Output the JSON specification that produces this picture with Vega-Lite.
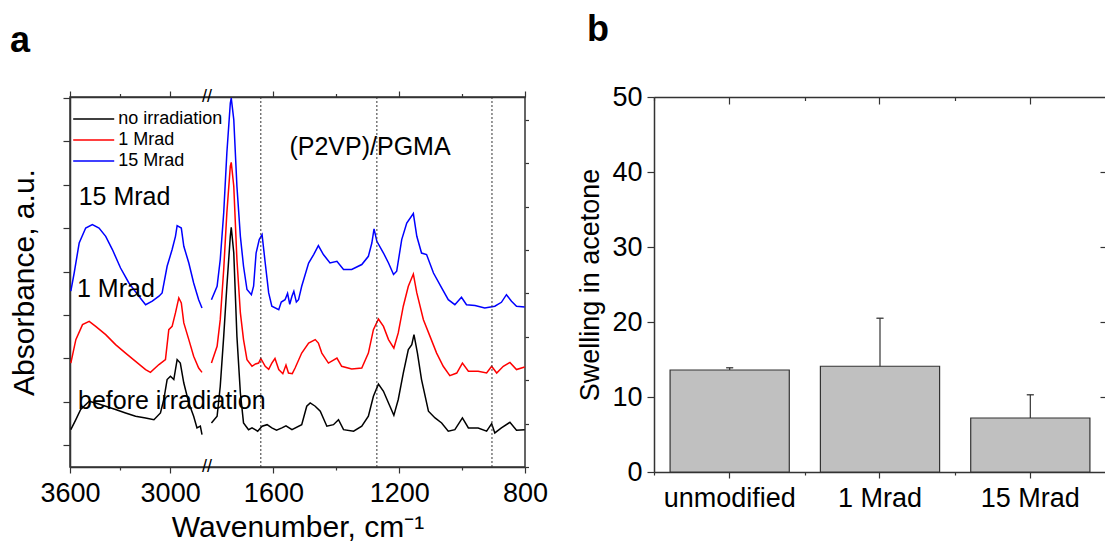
{
  "$schema": "https://vega.github.io/schema/vega-lite/v6.json",
  "background": "white",
  "padding": {"left": 8, "top": 12, "right": 0, "bottom": 0},
  "spacing": 129,
  "bounds": "flush",
  "config": {
    "font": "Liberation Sans",
    "view": {"stroke": null},
    "axis": {"grid": false, "domainColor": "#333", "tickColor": "#333", "labelColor": "#000", "titleColor": "#000", "titleFontWeight": "normal", "labelFont": "Liberation Sans", "titleFont": "Liberation Sans", "domainWidth": 1.5, "tickWidth": 1.2},
    "title": {"font": "Liberation Sans", "fontWeight": "bold", "fontSize": 36, "anchor": "start", "frame": "group", "color": "#000"}
  },
  "datasets": {
    "spectra": [
      {"s":"no irradiation","g":"L","x":3595,"y":0.172},{"s":"no irradiation","g":"L","x":3565,"y":0.218},{"s":"no irradiation","g":"L","x":3536,"y":0.265},{"s":"no irradiation","g":"L","x":3485,"y":0.303},{"s":"no irradiation","g":"L","x":3446,"y":0.295},{"s":"no irradiation","g":"L","x":3386,"y":0.280},{"s":"no irradiation","g":"L","x":3327,"y":0.265},{"s":"no irradiation","g":"L","x":3267,"y":0.249},{"s":"no irradiation","g":"L","x":3207,"y":0.234},{"s":"no irradiation","g":"L","x":3147,"y":0.226},{"s":"no irradiation","g":"L","x":3097,"y":0.218},{"s":"no irradiation","g":"L","x":3058,"y":0.249},{"s":"no irradiation","g":"L","x":3038,"y":0.311},{"s":"no irradiation","g":"L","x":3018,"y":0.403},{"s":"no irradiation","g":"L","x":2998,"y":0.418},{"s":"no irradiation","g":"L","x":2978,"y":0.403},{"s":"no irradiation","g":"L","x":2958,"y":0.495},{"s":"no irradiation","g":"L","x":2939,"y":0.479},{"s":"no irradiation","g":"L","x":2918,"y":0.387},{"s":"no irradiation","g":"L","x":2888,"y":0.295},{"s":"no irradiation","g":"L","x":2859,"y":0.234},{"s":"no irradiation","g":"L","x":2839,"y":0.180},{"s":"no irradiation","g":"L","x":2819,"y":0.188},{"s":"no irradiation","g":"L","x":2809,"y":0.149},
      {"s":"no irradiation","g":"R","x":1797,"y":0.203},{"s":"no irradiation","g":"R","x":1779,"y":0.234},{"s":"no irradiation","g":"R","x":1769,"y":0.372},{"s":"no irradiation","g":"R","x":1758,"y":0.602},{"s":"no irradiation","g":"R","x":1748,"y":0.833},{"s":"no irradiation","g":"R","x":1737,"y":1.063},{"s":"no irradiation","g":"R","x":1734,"y":1.105},{"s":"no irradiation","g":"R","x":1726,"y":0.986},{"s":"no irradiation","g":"R","x":1716,"y":0.602},{"s":"no irradiation","g":"R","x":1705,"y":0.341},{"s":"no irradiation","g":"R","x":1695,"y":0.203},{"s":"no irradiation","g":"R","x":1679,"y":0.172},{"s":"no irradiation","g":"R","x":1668,"y":0.180},{"s":"no irradiation","g":"R","x":1658,"y":0.172},{"s":"no irradiation","g":"R","x":1650,"y":0.165},{"s":"no irradiation","g":"R","x":1636,"y":0.188},{"s":"no irradiation","g":"R","x":1620,"y":0.195},{"s":"no irradiation","g":"R","x":1605,"y":0.180},{"s":"no irradiation","g":"R","x":1590,"y":0.170},{"s":"no irradiation","g":"R","x":1573,"y":0.180},{"s":"no irradiation","g":"R","x":1560,"y":0.190},{"s":"no irradiation","g":"R","x":1541,"y":0.172},{"s":"no irradiation","g":"R","x":1510,"y":0.195},{"s":"no irradiation","g":"R","x":1494,"y":0.280},{"s":"no irradiation","g":"R","x":1483,"y":0.295},{"s":"no irradiation","g":"R","x":1467,"y":0.280},{"s":"no irradiation","g":"R","x":1451,"y":0.257},{"s":"no irradiation","g":"R","x":1430,"y":0.188},{"s":"no irradiation","g":"R","x":1409,"y":0.195},{"s":"no irradiation","g":"R","x":1393,"y":0.218},{"s":"no irradiation","g":"R","x":1377,"y":0.172},{"s":"no irradiation","g":"R","x":1345,"y":0.165},{"s":"no irradiation","g":"R","x":1319,"y":0.188},{"s":"no irradiation","g":"R","x":1298,"y":0.234},{"s":"no irradiation","g":"R","x":1282,"y":0.326},{"s":"no irradiation","g":"R","x":1266,"y":0.382},{"s":"no irradiation","g":"R","x":1250,"y":0.349},{"s":"no irradiation","g":"R","x":1234,"y":0.295},{"s":"no irradiation","g":"R","x":1217,"y":0.238},{"s":"no irradiation","g":"R","x":1203,"y":0.311},{"s":"no irradiation","g":"R","x":1187,"y":0.433},{"s":"no irradiation","g":"R","x":1171,"y":0.541},{"s":"no irradiation","g":"R","x":1160,"y":0.564},{"s":"no irradiation","g":"R","x":1153,"y":0.610},{"s":"no irradiation","g":"R","x":1142,"y":0.525},{"s":"no irradiation","g":"R","x":1129,"y":0.403},{"s":"no irradiation","g":"R","x":1107,"y":0.257},{"s":"no irradiation","g":"R","x":1086,"y":0.226},{"s":"no irradiation","g":"R","x":1065,"y":0.203},{"s":"no irradiation","g":"R","x":1044,"y":0.165},{"s":"no irradiation","g":"R","x":1023,"y":0.172},{"s":"no irradiation","g":"R","x":999,"y":0.226},{"s":"no irradiation","g":"R","x":980,"y":0.180},{"s":"no irradiation","g":"R","x":949,"y":0.180},{"s":"no irradiation","g":"R","x":922,"y":0.165},{"s":"no irradiation","g":"R","x":906,"y":0.200},{"s":"no irradiation","g":"R","x":896,"y":0.157},{"s":"no irradiation","g":"R","x":875,"y":0.180},{"s":"no irradiation","g":"R","x":848,"y":0.206},{"s":"no irradiation","g":"R","x":827,"y":0.169},{"s":"no irradiation","g":"R","x":801,"y":0.172},
      {"s":"1 Mrad","g":"L","x":3595,"y":0.479},{"s":"1 Mrad","g":"L","x":3565,"y":0.587},{"s":"1 Mrad","g":"L","x":3525,"y":0.656},{"s":"1 Mrad","g":"L","x":3485,"y":0.671},{"s":"1 Mrad","g":"L","x":3446,"y":0.648},{"s":"1 Mrad","g":"L","x":3386,"y":0.610},{"s":"1 Mrad","g":"L","x":3327,"y":0.564},{"s":"1 Mrad","g":"L","x":3267,"y":0.525},{"s":"1 Mrad","g":"L","x":3207,"y":0.487},{"s":"1 Mrad","g":"L","x":3147,"y":0.449},{"s":"1 Mrad","g":"L","x":3118,"y":0.436},{"s":"1 Mrad","g":"L","x":3067,"y":0.472},{"s":"1 Mrad","g":"L","x":3028,"y":0.495},{"s":"1 Mrad","g":"L","x":3008,"y":0.633},{"s":"1 Mrad","g":"L","x":2988,"y":0.648},{"s":"1 Mrad","g":"L","x":2968,"y":0.710},{"s":"1 Mrad","g":"L","x":2948,"y":0.779},{"s":"1 Mrad","g":"L","x":2933,"y":0.756},{"s":"1 Mrad","g":"L","x":2918,"y":0.664},{"s":"1 Mrad","g":"L","x":2888,"y":0.587},{"s":"1 Mrad","g":"L","x":2859,"y":0.510},{"s":"1 Mrad","g":"L","x":2829,"y":0.456},{"s":"1 Mrad","g":"L","x":2809,"y":0.436},
      {"s":"1 Mrad","g":"R","x":1797,"y":0.479},{"s":"1 Mrad","g":"R","x":1779,"y":0.556},{"s":"1 Mrad","g":"R","x":1769,"y":0.679},{"s":"1 Mrad","g":"R","x":1758,"y":0.910},{"s":"1 Mrad","g":"R","x":1748,"y":1.171},{"s":"1 Mrad","g":"R","x":1737,"y":1.386},{"s":"1 Mrad","g":"R","x":1734,"y":1.404},{"s":"1 Mrad","g":"R","x":1726,"y":1.294},{"s":"1 Mrad","g":"R","x":1716,"y":0.956},{"s":"1 Mrad","g":"R","x":1705,"y":0.710},{"s":"1 Mrad","g":"R","x":1695,"y":0.587},{"s":"1 Mrad","g":"R","x":1684,"y":0.495},{"s":"1 Mrad","g":"R","x":1668,"y":0.464},{"s":"1 Mrad","g":"R","x":1657,"y":0.475},{"s":"1 Mrad","g":"R","x":1647,"y":0.479},{"s":"1 Mrad","g":"R","x":1640,"y":0.500},{"s":"1 Mrad","g":"R","x":1626,"y":0.464},{"s":"1 Mrad","g":"R","x":1615,"y":0.450},{"s":"1 Mrad","g":"R","x":1605,"y":0.479},{"s":"1 Mrad","g":"R","x":1595,"y":0.500},{"s":"1 Mrad","g":"R","x":1583,"y":0.449},{"s":"1 Mrad","g":"R","x":1570,"y":0.430},{"s":"1 Mrad","g":"R","x":1560,"y":0.470},{"s":"1 Mrad","g":"R","x":1552,"y":0.433},{"s":"1 Mrad","g":"R","x":1540,"y":0.430},{"s":"1 Mrad","g":"R","x":1531,"y":0.456},{"s":"1 Mrad","g":"R","x":1510,"y":0.525},{"s":"1 Mrad","g":"R","x":1488,"y":0.571},{"s":"1 Mrad","g":"R","x":1467,"y":0.587},{"s":"1 Mrad","g":"R","x":1457,"y":0.571},{"s":"1 Mrad","g":"R","x":1446,"y":0.525},{"s":"1 Mrad","g":"R","x":1425,"y":0.479},{"s":"1 Mrad","g":"R","x":1398,"y":0.502},{"s":"1 Mrad","g":"R","x":1383,"y":0.464},{"s":"1 Mrad","g":"R","x":1351,"y":0.452},{"s":"1 Mrad","g":"R","x":1319,"y":0.456},{"s":"1 Mrad","g":"R","x":1298,"y":0.525},{"s":"1 Mrad","g":"R","x":1282,"y":0.633},{"s":"1 Mrad","g":"R","x":1266,"y":0.682},{"s":"1 Mrad","g":"R","x":1250,"y":0.648},{"s":"1 Mrad","g":"R","x":1234,"y":0.587},{"s":"1 Mrad","g":"R","x":1217,"y":0.548},{"s":"1 Mrad","g":"R","x":1203,"y":0.618},{"s":"1 Mrad","g":"R","x":1187,"y":0.741},{"s":"1 Mrad","g":"R","x":1171,"y":0.833},{"s":"1 Mrad","g":"R","x":1155,"y":0.889},{"s":"1 Mrad","g":"R","x":1144,"y":0.802},{"s":"1 Mrad","g":"R","x":1123,"y":0.679},{"s":"1 Mrad","g":"R","x":1102,"y":0.602},{"s":"1 Mrad","g":"R","x":1081,"y":0.525},{"s":"1 Mrad","g":"R","x":1060,"y":0.464},{"s":"1 Mrad","g":"R","x":1039,"y":0.421},{"s":"1 Mrad","g":"R","x":1017,"y":0.433},{"s":"1 Mrad","g":"R","x":999,"y":0.479},{"s":"1 Mrad","g":"R","x":980,"y":0.441},{"s":"1 Mrad","g":"R","x":949,"y":0.441},{"s":"1 Mrad","g":"R","x":922,"y":0.433},{"s":"1 Mrad","g":"R","x":906,"y":0.464},{"s":"1 Mrad","g":"R","x":890,"y":0.433},{"s":"1 Mrad","g":"R","x":869,"y":0.464},{"s":"1 Mrad","g":"R","x":848,"y":0.482},{"s":"1 Mrad","g":"R","x":827,"y":0.449},{"s":"1 Mrad","g":"R","x":801,"y":0.461},
      {"s":"15 Mrad","g":"L","x":3595,"y":0.810},{"s":"15 Mrad","g":"L","x":3575,"y":0.894},{"s":"15 Mrad","g":"L","x":3545,"y":1.032},{"s":"15 Mrad","g":"L","x":3506,"y":1.101},{"s":"15 Mrad","g":"L","x":3466,"y":1.117},{"s":"15 Mrad","g":"L","x":3426,"y":1.101},{"s":"15 Mrad","g":"L","x":3386,"y":1.063},{"s":"15 Mrad","g":"L","x":3346,"y":1.002},{"s":"15 Mrad","g":"L","x":3297,"y":0.917},{"s":"15 Mrad","g":"L","x":3247,"y":0.848},{"s":"15 Mrad","g":"L","x":3187,"y":0.787},{"s":"15 Mrad","g":"L","x":3147,"y":0.748},{"s":"15 Mrad","g":"L","x":3107,"y":0.764},{"s":"15 Mrad","g":"L","x":3067,"y":0.787},{"s":"15 Mrad","g":"L","x":3048,"y":0.802},{"s":"15 Mrad","g":"L","x":3018,"y":0.925},{"s":"15 Mrad","g":"L","x":2988,"y":1.002},{"s":"15 Mrad","g":"L","x":2968,"y":1.063},{"s":"15 Mrad","g":"L","x":2958,"y":1.112},{"s":"15 Mrad","g":"L","x":2933,"y":1.101},{"s":"15 Mrad","g":"L","x":2918,"y":1.017},{"s":"15 Mrad","g":"L","x":2888,"y":0.940},{"s":"15 Mrad","g":"L","x":2859,"y":0.848},{"s":"15 Mrad","g":"L","x":2829,"y":0.771},{"s":"15 Mrad","g":"L","x":2809,"y":0.733},
      {"s":"15 Mrad","g":"R","x":1797,"y":0.771},{"s":"15 Mrad","g":"R","x":1779,"y":0.833},{"s":"15 Mrad","g":"R","x":1769,"y":0.956},{"s":"15 Mrad","g":"R","x":1758,"y":1.171},{"s":"15 Mrad","g":"R","x":1748,"y":1.447},{"s":"15 Mrad","g":"R","x":1737,"y":1.677},{"s":"15 Mrad","g":"R","x":1734,"y":1.700},{"s":"15 Mrad","g":"R","x":1726,"y":1.601},{"s":"15 Mrad","g":"R","x":1716,"y":1.294},{"s":"15 Mrad","g":"R","x":1705,"y":1.063},{"s":"15 Mrad","g":"R","x":1695,"y":0.925},{"s":"15 Mrad","g":"R","x":1684,"y":0.818},{"s":"15 Mrad","g":"R","x":1670,"y":0.794},{"s":"15 Mrad","g":"R","x":1663,"y":0.833},{"s":"15 Mrad","g":"R","x":1655,"y":0.986},{"s":"15 Mrad","g":"R","x":1645,"y":1.048},{"s":"15 Mrad","g":"R","x":1636,"y":1.071},{"s":"15 Mrad","g":"R","x":1626,"y":0.940},{"s":"15 Mrad","g":"R","x":1615,"y":0.802},{"s":"15 Mrad","g":"R","x":1605,"y":0.741},{"s":"15 Mrad","g":"R","x":1583,"y":0.725},{"s":"15 Mrad","g":"R","x":1575,"y":0.760},{"s":"15 Mrad","g":"R","x":1563,"y":0.771},{"s":"15 Mrad","g":"R","x":1555,"y":0.800},{"s":"15 Mrad","g":"R","x":1548,"y":0.750},{"s":"15 Mrad","g":"R","x":1541,"y":0.787},{"s":"15 Mrad","g":"R","x":1535,"y":0.810},{"s":"15 Mrad","g":"R","x":1527,"y":0.760},{"s":"15 Mrad","g":"R","x":1520,"y":0.771},{"s":"15 Mrad","g":"R","x":1510,"y":0.833},{"s":"15 Mrad","g":"R","x":1488,"y":0.940},{"s":"15 Mrad","g":"R","x":1472,"y":0.979},{"s":"15 Mrad","g":"R","x":1457,"y":1.020},{"s":"15 Mrad","g":"R","x":1441,"y":0.979},{"s":"15 Mrad","g":"R","x":1420,"y":0.940},{"s":"15 Mrad","g":"R","x":1398,"y":0.948},{"s":"15 Mrad","g":"R","x":1377,"y":0.910},{"s":"15 Mrad","g":"R","x":1351,"y":0.910},{"s":"15 Mrad","g":"R","x":1319,"y":0.933},{"s":"15 Mrad","g":"R","x":1298,"y":0.971},{"s":"15 Mrad","g":"R","x":1287,"y":1.032},{"s":"15 Mrad","g":"R","x":1280,"y":1.097},{"s":"15 Mrad","g":"R","x":1271,"y":1.040},{"s":"15 Mrad","g":"R","x":1250,"y":0.986},{"s":"15 Mrad","g":"R","x":1234,"y":0.940},{"s":"15 Mrad","g":"R","x":1218,"y":0.887},{"s":"15 Mrad","g":"R","x":1208,"y":0.902},{"s":"15 Mrad","g":"R","x":1192,"y":1.048},{"s":"15 Mrad","g":"R","x":1176,"y":1.124},{"s":"15 Mrad","g":"R","x":1155,"y":1.168},{"s":"15 Mrad","g":"R","x":1144,"y":1.063},{"s":"15 Mrad","g":"R","x":1129,"y":0.986},{"s":"15 Mrad","g":"R","x":1113,"y":0.979},{"s":"15 Mrad","g":"R","x":1091,"y":0.894},{"s":"15 Mrad","g":"R","x":1065,"y":0.825},{"s":"15 Mrad","g":"R","x":1044,"y":0.771},{"s":"15 Mrad","g":"R","x":1023,"y":0.748},{"s":"15 Mrad","g":"R","x":1002,"y":0.782},{"s":"15 Mrad","g":"R","x":986,"y":0.748},{"s":"15 Mrad","g":"R","x":959,"y":0.744},{"s":"15 Mrad","g":"R","x":928,"y":0.733},{"s":"15 Mrad","g":"R","x":896,"y":0.741},{"s":"15 Mrad","g":"R","x":875,"y":0.759},{"s":"15 Mrad","g":"R","x":859,"y":0.794},{"s":"15 Mrad","g":"R","x":843,"y":0.764},{"s":"15 Mrad","g":"R","x":827,"y":0.741},{"s":"15 Mrad","g":"R","x":801,"y":0.737}
    ],
    "notes": [
      {"x": 3548, "y": 1.206, "t": "15 Mrad"},
      {"x": 3558, "y": 0.783, "t": "1 Mrad"},
      {"x": 3552, "y": 0.269, "t": "before irradiation"},
      {"x": 1549, "y": 1.436, "t": "(P2VP)/PGMA"}
    ],
    "vlines": [{"x": 1640}, {"x": 1271}, {"x": 905}],
    "breaks": [{"x": 2300, "y": 0, "t": "//"}, {"x": 2300, "y": 1.705, "t": "//"}],
    "swell": [
      {"c": "unmodified", "v": 13.6, "hi": 13.9},
      {"c": "1 Mrad", "v": 14.1, "hi": 20.5},
      {"c": "15 Mrad", "v": 7.2, "hi": 10.3}
    ]
  },
  "hconcat": [
    {
      "width": 455,
      "height": 370,
      "view": {"stroke": "#333", "strokeWidth": 1.5},
      "title": {"text": "a", "dx": -60, "offset": 28},
      "resolve": {"axis": {"x": "independent", "y": "independent"}},
      "layer": [
        {
          "data": {"name": "spectra"},
          "mark": {"type": "line", "strokeWidth": 1.5},
          "encoding": {
            "x": {"field": "x", "type": "quantitative",
              "scale": {"domain": [3600, 2800, 1800, 800], "range": [0, 133.5, 140.5, 455], "nice": false, "zero": false},
              "axis": {"orient": "bottom", "values": [3600, 3000, 1600, 1200, 800], "format": "d", "labelFontSize": 27, "tickSize": 6, "labelPadding": 7, "labelFlush": false, "labelOverlap": false, "title": "Wavenumber, cm⁻¹", "titleFontSize": 30, "titlePadding": 6}},
            "y": {"field": "y", "type": "quantitative",
              "scale": {"domain": [0, 1.705], "nice": false, "zero": false},
              "axis": {"values": [0.1, 0.3, 0.5, 0.7, 0.9, 1.1, 1.3, 1.5, 1.7], "labels": false, "tickSize": 7, "title": "Absorbance, a.u.", "titleFontSize": 30, "titlePadding": 23}},
            "color": {"field": "s", "type": "nominal",
              "scale": {"domain": ["no irradiation", "1 Mrad", "15 Mrad"], "range": ["#000000", "#ff0000", "#0000ff"]},
              "legend": {"orient": "none", "legendX": 14.7, "legendY": 13, "title": null, "symbolType": "M-3,0H3", "symbolSize": 187, "symbolStrokeWidth": 1.5, "labelFontSize": 18, "labelFont": "Liberation Sans", "labelColor": "#000", "labelOffset": 15.6, "rowPadding": 3, "padding": 0}},
            "detail": {"field": "g", "type": "nominal"}
          }
        },
        {
          "data": {"name": "notes"},
          "mark": {"type": "text", "align": "left", "baseline": "alphabetic", "fontSize": 25, "font": "Liberation Sans", "color": "#000"},
          "encoding": {
            "x": {"field": "x", "type": "quantitative",
              "scale": {"domain": [3600, 2800, 1800, 800], "range": [0, 133.5, 140.5, 455], "nice": false, "zero": false},
              "axis": {"orient": "bottom", "values": [3300, 1400, 1000], "labels": false, "domain": false, "tickSize": 3, "title": null}},
            "y": {"field": "y", "type": "quantitative",
              "scale": {"domain": [0, 1.705], "nice": false, "zero": false},
              "axis": {"values": [0, 0.2, 0.4, 0.6, 0.8, 1.0, 1.2, 1.4, 1.6], "labels": false, "domain": false, "tickSize": 3.5, "title": null}},
            "text": {"field": "t", "type": "nominal"}
          }
        },
        {
          "data": {"name": "vlines"},
          "mark": {"type": "rule", "color": "#333", "strokeWidth": 1, "strokeDash": [2, 2]},
          "encoding": {
            "x": {"field": "x", "type": "quantitative",
              "scale": {"domain": [3600, 2800, 1800, 800], "range": [0, 133.5, 140.5, 455], "nice": false, "zero": false},
              "axis": {"orient": "top", "values": [3600, 3000, 1600, 1200, 800], "labels": false, "domain": true, "tickSize": 6, "title": null}}
          }
        },
        {
          "data": {"name": "breaks"},
          "mark": {"type": "text", "align": "center", "baseline": "middle", "fontSize": 18, "font": "Liberation Sans", "color": "#000"},
          "encoding": {
            "x": {"field": "x", "type": "quantitative",
              "scale": {"domain": [3600, 2800, 1800, 800], "range": [0, 133.5, 140.5, 455], "nice": false, "zero": false},
              "axis": {"orient": "top", "values": [3300, 1400, 1000], "labels": false, "domain": false, "tickSize": 3.5, "title": null}},
            "y": {"field": "y", "type": "quantitative",
              "scale": {"domain": [0, 1.705], "nice": false, "zero": false}, "axis": null},
            "text": {"field": "t", "type": "nominal"}
          }
        }
      ]
    },
    {
      "width": 452,
      "height": 375,
      "title": {"text": "b", "dx": -67, "offset": 34},
      "data": {"name": "swell"},
      "resolve": {"axis": {"x": "independent", "y": "independent"}},
      "layer": [
        {
          "mark": {"type": "bar", "fill": "#c0c0c0", "stroke": "#333", "strokeWidth": 1.2},
          "encoding": {
            "x": {"field": "c", "type": "nominal", "sort": null, "scale": {"paddingInner": 0.207, "paddingOuter": 0.107},
              "axis": {"orient": "bottom", "labelAngle": 0, "labelFontSize": 27, "tickSize": 6, "labelPadding": 7, "title": null}},
            "y": {"field": "v", "type": "quantitative", "scale": {"domain": [0, 50], "nice": false},
              "axis": {"values": [0, 10, 20, 30, 40, 50], "labelFontSize": 27, "tickSize": 7, "labelPadding": 5, "title": "Swelling in acetone", "titleFontSize": 27, "titlePadding": 7}}
          }
        },
        {
          "mark": {"type": "rule", "color": "#333", "strokeWidth": 1.2},
          "encoding": {
            "x": {"field": "c", "type": "nominal", "sort": null, "scale": {"paddingInner": 0.207, "paddingOuter": 0.107},
              "axis": {"orient": "bottom", "labels": false, "domain": false, "tickSize": 3, "tickOffset": -75.2, "title": null}},
            "y": {"field": "v", "type": "quantitative", "scale": {"domain": [0, 50], "nice": false},
              "axis": {"values": [5, 15, 25, 35, 45], "labels": false, "domain": false, "tickSize": 3.5, "title": null}},
            "y2": {"field": "hi"}
          }
        },
        {
          "mark": {"type": "tick", "color": "#333", "size": 7, "thickness": 1.2},
          "encoding": {
            "x": {"field": "c", "type": "nominal", "sort": null, "scale": {"paddingInner": 0.207, "paddingOuter": 0.107},
              "axis": {"orient": "top", "labels": false, "domain": true, "tickSize": -7, "title": null}},
            "y": {"field": "hi", "type": "quantitative", "scale": {"domain": [0, 50], "nice": false},
              "axis": {"orient": "right", "values": [10, 20, 30, 40], "labels": false, "domain": false, "tickSize": -6, "title": null}}
          }
        },
        {
          "mark": {"type": "tick", "color": "#333", "size": 7, "thickness": 1.2},
          "encoding": {
            "x": {"field": "c", "type": "nominal", "sort": null, "scale": {"paddingInner": 0.207, "paddingOuter": 0.107},
              "axis": {"orient": "top", "labels": false, "domain": false, "tickSize": -3.5, "tickOffset": -75.2, "title": null}},
            "y": {"field": "hi", "type": "quantitative", "scale": {"domain": [0, 50], "nice": false}, "axis": null}
          }
        }
      ]
    }
  ]
}
